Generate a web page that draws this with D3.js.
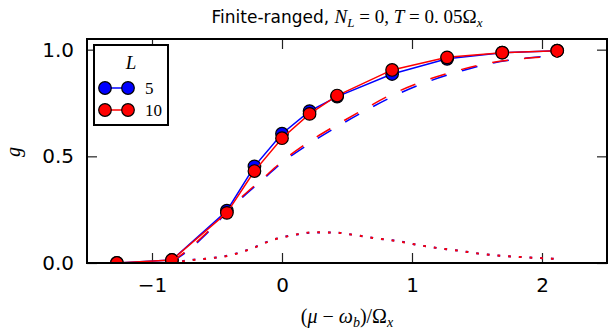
<!DOCTYPE html>
<html>
<head>
<meta charset="utf-8">
<script src="https://cdn.jsdelivr.net/npm/d3@7"></script>
<style>
  body { margin: 0; background: #fff; }
  svg { display: block; }
  .tick text { font-family: "DejaVu Sans", sans-serif; font-size: 20px; fill: #000; }
  .tick line { stroke: #222; stroke-width: 1.2; }
  .math { font-family: "Liberation Serif", serif; }
</style>
</head>
<body>
<svg id="chart" width="610" height="333"></svg>
<script>
// marker positions, (mu - omega_b)/Omega_x
var xs = [-1.27, -0.847, -0.424, -0.212, 0, 0.212, 0.424, 0.847, 1.27, 1.694, 2.117];
var g5 = [0.0, 0.014, 0.245, 0.453, 0.606, 0.712, 0.780, 0.886, 0.957, 0.986, 0.995];
var g10 = [0.0, 0.014, 0.235, 0.431, 0.585, 0.699, 0.785, 0.905, 0.964, 0.986, 0.995];

// dashed curves
var dashX = [-0.85, -0.75, -0.6, -0.45, -0.3, -0.15, 0, 0.2, 0.4, 0.6, 0.85, 1.1, 1.35, 1.6, 1.85, 2.12];
var dash5 = [0.005, 0.045, 0.125, 0.22, 0.31, 0.39, 0.47, 0.555, 0.63, 0.70, 0.78, 0.845, 0.895, 0.935, 0.958, 0.972];
var dash10 = [0.005, 0.05, 0.13, 0.225, 0.315, 0.395, 0.476, 0.565, 0.64, 0.71, 0.792, 0.855, 0.902, 0.938, 0.958, 0.968];

// dotted curves
var dotX = [-0.85, -0.7, -0.55, -0.4, -0.23, -0.08, 0.09, 0.24, 0.4, 0.56, 0.73, 0.89, 1.05, 1.21, 1.38, 1.54, 1.7, 1.86, 2.03, 2.12];
var dot5 = [0.0, 0.014, 0.022, 0.037, 0.069, 0.107, 0.131, 0.143, 0.143, 0.131, 0.115, 0.103, 0.084, 0.069, 0.056, 0.042, 0.033, 0.027, 0.022, 0.019];
var dot10 = [0.0, 0.013, 0.022, 0.036, 0.068, 0.106, 0.131, 0.144, 0.143, 0.131, 0.115, 0.102, 0.084, 0.069, 0.056, 0.042, 0.033, 0.027, 0.022, 0.019];

var xTicks = [-1, 0, 1, 2];
var yTicks = [0, 0.5, 1.0];
var legendLabels = ["5", "10"];

(function () {
    var x0 = 87, x1 = 607, y0 = 39, y1 = 263;

    var svg = d3.select("#chart");

    var x = d3.scaleLinear().domain([-1.5, 2.5]).range([x0, x1]);
    var y = d3.scaleLinear().domain([0, 1.05]).range([y1, y0]);

    svg.append("defs").append("clipPath").attr("id", "plot")
        .append("rect")
        .attr("x", x0).attr("y", y0)
        .attr("width", x1 - x0).attr("height", y1 - y0);

    // axes, ticks pointing inward
    svg.append("g").attr("transform", "translate(0," + y1 + ")")
        .call(d3.axisBottom(x).tickValues(xTicks).tickSize(-10).tickPadding(15).tickFormat(d3.format("d")))
        .call(function (g) { g.select(".domain").remove(); });
    svg.append("g").attr("transform", "translate(0," + y0 + ")")
        .call(d3.axisTop(x).tickValues(xTicks).tickSize(-10).tickFormat(""))
        .call(function (g) { g.select(".domain").remove(); });
    svg.append("g").attr("transform", "translate(" + x0 + ",0)")
        .call(d3.axisLeft(y).tickValues(yTicks).tickSize(-10).tickPadding(13).tickFormat(d3.format(".1f")))
        .call(function (g) { g.select(".domain").remove(); });
    svg.append("g").attr("transform", "translate(" + x1 + ",0)")
        .call(d3.axisRight(y).tickValues(yTicks).tickSize(-10).tickFormat(""))
        .call(function (g) { g.select(".domain").remove(); });

    var plot = svg.append("g").attr("clip-path", "url(#plot)");

    function pairs(xv, yv) {
        return xv.map(function (d, i) { return [d, yv[i]]; });
    }

    var line = d3.line().x(function (d) { return x(d[0]); }).y(function (d) { return y(d[1]); });
    var smooth = d3.line().curve(d3.curveMonotoneX)
        .x(function (d) { return x(d[0]); }).y(function (d) { return y(d[1]); });

    var series = [
        { color: "#0000ff", g: g5, dash: dash5, dot: dot5, phase: 0 },
        { color: "#ff0000", g: g10, dash: dash10, dot: dot10, phase: 0 }
    ];

    series.forEach(function (s) {
        plot.append("path")
            .attr("fill", "none").attr("stroke", s.color).attr("stroke-width", 1.5)
            .attr("d", line(pairs(xs, s.g)));
        plot.selectAll(null).data(pairs(xs, s.g)).enter().append("circle")
            .attr("cx", function (d) { return x(d[0]); })
            .attr("cy", function (d) { return y(d[1]); })
            .attr("r", 6.3)
            .attr("fill", s.color).attr("stroke", "#000").attr("stroke-width", 1.2);
        plot.append("path")
            .attr("fill", "none").attr("stroke", s.color).attr("stroke-width", 1.5)
            .attr("stroke-dasharray", "16,16")
            .attr("d", smooth(pairs(dashX, s.dash)));
        plot.append("path")
            .attr("fill", "none").attr("stroke", s.color).attr("stroke-width", 2)
            .attr("stroke-dasharray", "2.7,8")
            .attr("d", smooth(pairs(dotX, s.dot)));
    });

    // frame
    svg.append("rect")
        .attr("x", x0).attr("y", y0)
        .attr("width", x1 - x0).attr("height", y1 - y0)
        .attr("fill", "none").attr("stroke", "#000").attr("stroke-width", 2);

    // legend
    var lg = svg.append("g");
    lg.append("rect").attr("x", 94).attr("y", 45).attr("width", 74).attr("height", 80)
        .attr("fill", "#fff").attr("stroke", "#000").attr("stroke-width", 2);
    lg.append("text").attr("class", "math").attr("x", 131).attr("y", 69)
        .attr("text-anchor", "middle").attr("font-size", 19).attr("font-style", "italic")
        .text("L");
    series.forEach(function (s, i) {
        var yy = 88 + i * 22;
        lg.append("line").attr("x1", 105).attr("x2", 128).attr("y1", yy).attr("y2", yy)
            .attr("stroke", s.color).attr("stroke-width", 1.5);
        [105, 128].forEach(function (cx) {
            lg.append("circle").attr("cx", cx).attr("cy", yy).attr("r", 6.3)
                .attr("fill", s.color).attr("stroke", "#000").attr("stroke-width", 1.2);
        });
        lg.append("text").attr("class", "math").attr("x", 145).attr("y", yy + 6)
            .attr("font-size", 17).text(legendLabels[i]);
    });

    // title
    var title = svg.append("text").attr("x", 347).attr("y", 23)
        .attr("text-anchor", "middle").attr("font-size", 17);
    title.append("tspan").attr("font-family", "DejaVu Sans").text("Finite-ranged, ");
    var m = title.append("tspan").attr("class", "math").attr("font-size", 19);
    m.append("tspan").attr("font-style", "italic").text("N");
    m.append("tspan").attr("font-style", "italic").attr("font-size", 13).attr("dy", 4).text("L");
    m.append("tspan").attr("dy", -4).text(" = 0,  ");
    m.append("tspan").attr("font-style", "italic").text("T");
    m.append("tspan").text(" = 0. 05Ω");
    m.append("tspan").attr("font-style", "italic").attr("font-size", 13).attr("dy", 4).text("x");

    // x label
    var xl = svg.append("text").attr("class", "math").attr("x", 347).attr("y", 323)
        .attr("text-anchor", "middle").attr("font-size", 20);
    xl.append("tspan").text("(");
    xl.append("tspan").attr("font-style", "italic").text("μ");
    xl.append("tspan").text(" − ");
    xl.append("tspan").attr("font-style", "italic").text("ω");
    xl.append("tspan").attr("font-style", "italic").attr("font-size", 14).attr("dy", 4).text("b");
    xl.append("tspan").attr("dy", -4).text(")/Ω");
    xl.append("tspan").attr("font-style", "italic").attr("font-size", 14).attr("dy", 4).text("x");

    // y label
    svg.append("text").attr("class", "math")
        .attr("transform", "translate(20,152) rotate(-90)")
        .attr("text-anchor", "middle").attr("font-size", 20).attr("font-style", "italic")
        .text("g");
})();
</script>
</body>
</html>
